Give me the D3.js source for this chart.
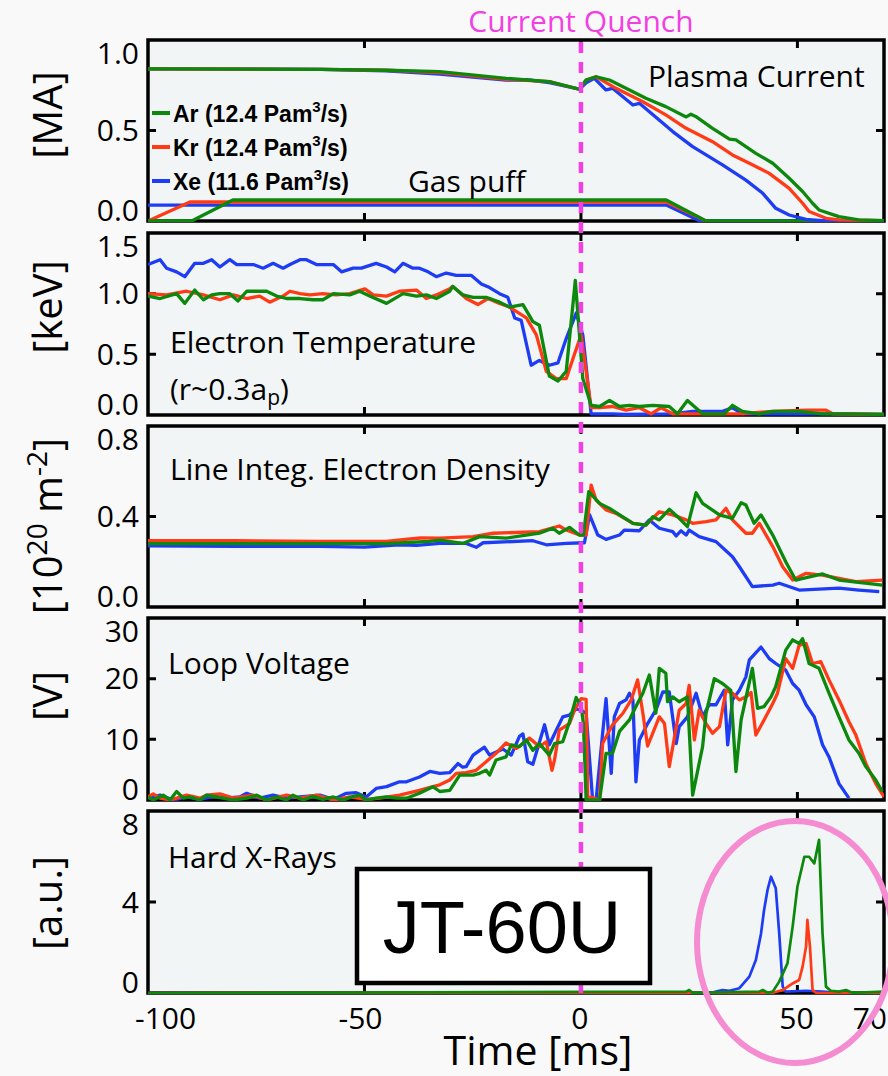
<!DOCTYPE html>
<meta charset="utf-8">
<script src="https://d3js.org/d3.v7.min.js"></script>
<style>
  body { margin: 0; background: #f9f9f9; }
  text { font-family: "Open Sans", "Noto Sans", sans-serif; fill: #000; }
</style>
<body>
<div id="chart"></div>
<script>
// ---- data: [time ms, value] ----
const timeTicks = [-100, -50, 0, 50, 70];

// plasma current [MA]
const currentXe = [[-100,0.84],[-60,0.838],[-45,0.83],[-32.6,0.812],[-17.3,0.779],[-12,0.779],[-7.3,0.764],[-0.35,0.728],[1.2,0.764],[3.1,0.788],[5.8,0.724],[7.3,0.733],[12.0,0.641],[13.5,0.65],[21.2,0.494],[25.8,0.411],[32.7,0.31],[38.1,0.226],[42.0,0.153],[45.0,0.07],[48.1,0.033],[52.0,0.009],[55.8,0.002],[70,0.002]];
const currentKr = [[-100,0.84],[-60,0.838],[-45,0.833],[-32.6,0.82],[-17.3,0.783],[-7.3,0.77],[-0.35,0.728],[1.2,0.779],[3.5,0.797],[8.1,0.733],[14.3,0.659],[19.6,0.586],[24.3,0.512],[30.4,0.438],[35.0,0.365],[38.9,0.319],[43.5,0.263],[48.1,0.18],[51.2,0.098],[52.7,0.052],[56.6,0.015],[59.6,0.006],[70,0.002]];
const currentAr = [[-100,0.84],[-60,0.838],[-45,0.833],[-32.6,0.825],[-17.3,0.788],[-7.3,0.77],[-0.35,0.728],[1.2,0.779],[3.5,0.797],[6.6,0.779],[10.4,0.733],[15.0,0.678],[19.6,0.632],[24.3,0.575],[25.4,0.59],[26.5,0.578],[30.4,0.512],[34.3,0.452],[35.8,0.448],[40.4,0.374],[44.3,0.319],[48.1,0.236],[51.2,0.163],[53.5,0.098],[55.0,0.061],[59.6,0.024],[64.2,0.006],[70,0.002]];

// gas puff (same panel)
const gasXe = [[-100,0.088],[19.7,0.088],[27.5,0],[70,0]];
const gasKr = [[-100,0],[-90.3,0.105],[19.7,0.105],[28.9,0]];
const gasAr = [[-100,0],[-89.9,0],[-80.4,0.116],[19.7,0.116],[28.9,0],[70,0]];

// electron temperature [keV]
const teXe = [[-100,1.24],[-97.2,1.28],[-95.7,1.21],[-93.4,1.18],[-91.5,1.14],[-89.2,1.25],[-87.2,1.25],[-85.3,1.28],[-83.4,1.22],[-81.1,1.28],[-79.5,1.24],[-75.7,1.24],[-73.4,1.21],[-71.1,1.25],[-68.8,1.21],[-67.2,1.24],[-64.9,1.28],[-63.4,1.28],[-61.1,1.24],[-59.2,1.24],[-57.2,1.24],[-55.3,1.18],[-52.6,1.21],[-50.7,1.21],[-47.3,1.25],[-44.9,1.22],[-43.0,1.18],[-41.1,1.25],[-38.8,1.21],[-37.3,1.21],[-35.3,1.18],[-33.4,1.14],[-31.9,1.16],[-31.1,1.17],[-28.8,1.15],[-25.3,1.15],[-23.0,1.08],[-21.1,1.05],[-18.8,1.0],[-16.9,0.97],[-15.3,0.8],[-13.8,0.78],[-11.5,0.41],[-9.6,0.45],[-7.3,0.41],[-5.3,0.43],[-3.4,0.63],[-1.1,0.84],[0.43,0.66],[2.35,0.01],[7.3,0.01],[10.0,0.005],[21.2,0.01],[25.8,0.03],[32.7,0.03],[35.0,0.06],[37.3,0.01],[44.3,0.01],[59.6,0.01],[70,0.005]];
const teKr = [[-100,1.0],[-95.7,0.99],[-91.1,1.02],[-87.2,0.99],[-83.4,0.95],[-80.3,0.99],[-77.2,0.96],[-74.2,0.98],[-71.9,0.93],[-68.8,0.98],[-67.2,1.02],[-64.9,1.0],[-62.6,0.99],[-59.6,1.0],[-56.5,0.99],[-53.4,1.0],[-49.9,1.04],[-48.0,0.99],[-44.9,0.98],[-41.9,1.02],[-38.0,1.03],[-35.7,0.96],[-33.4,0.99],[-30.3,1.04],[-29.6,1.06],[-26.5,0.96],[-23.8,0.91],[-21.5,0.96],[-18.8,0.92],[-16.5,0.89],[-12.6,0.8],[-10.3,0.66],[-8.0,0.36],[-5.7,0.3],[-3.4,0.3],[-1.5,0.5],[0.04,0.66],[2.35,0.06],[4.3,0.06],[7.3,0.07],[10.4,0.04],[13.5,0.06],[16.2,0.01],[18.5,0.06],[21.2,0.01],[28.9,0.01],[36.6,0.01],[44.3,0.03],[52.0,0.04],[56.6,0.04],[58.1,0.01],[70,0.005]];
const teAr = [[-100,0.98],[-97.2,0.96],[-93.4,1.0],[-91.5,0.92],[-89.2,1.03],[-87.2,0.95],[-85.3,0.99],[-83.4,1.0],[-81.1,1.0],[-79.2,0.94],[-77.2,1.02],[-72.6,1.02],[-70.3,0.98],[-68.0,0.96],[-64.9,0.96],[-61.9,0.95],[-59.6,0.95],[-57.2,1.0],[-53.4,0.99],[-51.1,1.02],[-48.8,0.98],[-44.9,0.92],[-41.1,1.0],[-38.0,0.98],[-35.7,0.99],[-33.4,0.96],[-30.3,1.02],[-29.6,1.06],[-27.3,0.99],[-24.9,0.97],[-21.9,0.97],[-18.8,0.93],[-16.5,0.89],[-13.4,0.91],[-11.1,0.77],[-9.6,0.74],[-7.3,0.32],[-5.3,0.28],[-3.4,0.36],[-1.3,1.11],[0.43,0.3],[2.35,0.08],[4.3,0.07],[6.6,0.12],[8.9,0.07],[11.2,0.08],[13.5,0.07],[16.6,0.08],[20.4,0.07],[22.3,0.01],[24.6,0.12],[28.1,0.01],[33.1,0.01],[35.0,0.08],[37.3,0.03],[41.2,0.01],[44.3,0.03],[50.4,0.03],[55.8,0.01],[61.2,0.01],[70,0.005]];

// line integrated electron density [1e20 m^-2]
const neXe = [[-100,0.27],[-80,0.268],[-60,0.268],[-50,0.265],[-42,0.275],[-38,0.272],[-32.6,0.281],[-26.5,0.281],[-24.2,0.264],[-22.6,0.284],[-11.1,0.293],[-8.0,0.275],[-3.4,0.281],[0.81,0.284],[2.0,0.407],[3.9,0.318],[5.8,0.299],[8.9,0.318],[10.0,0.34],[13.5,0.337],[15.8,0.385],[18.1,0.348],[21.2,0.333],[22.0,0.314],[23.1,0.337],[24.3,0.318],[25.0,0.34],[27.3,0.311],[31.2,0.289],[35.0,0.222],[36.6,0.178],[39.6,0.09],[44.3,0.097],[45.8,0.105],[50.4,0.075],[59.6,0.083],[64.2,0.075],[68.9,0.068]];
const neKr = [[-100,0.293],[-80,0.293],[-60,0.29],[-45,0.29],[-40,0.3],[-37,0.305],[-32.6,0.304],[-24.9,0.311],[-20.3,0.326],[-9.6,0.333],[-5.0,0.358],[-3.4,0.34],[-0.35,0.318],[1.2,0.318],[2.35,0.539],[3.5,0.473],[5.8,0.429],[8.1,0.414],[12.0,0.37],[15.0,0.362],[18.1,0.421],[21.2,0.407],[24.3,0.385],[25.8,0.37],[28.9,0.377],[31.2,0.385],[33.5,0.436],[35.0,0.385],[38.1,0.326],[39.6,0.326],[41.2,0.37],[44.3,0.267],[46.6,0.178],[48.9,0.119],[52.0,0.149],[55.8,0.141],[59.6,0.127],[63.5,0.112],[69.6,0.119]];
const neAr = [[-100,0.28],[-60,0.28],[-45,0.28],[-40,0.285],[-35,0.29],[-32.6,0.296],[-27.3,0.281],[-23.4,0.311],[-17.3,0.304],[-9.6,0.326],[-6.5,0.348],[-5.0,0.326],[-2.65,0.352],[-0.35,0.318],[0.58,0.318],[1.8,0.51],[4.3,0.458],[6.6,0.436],[12.0,0.37],[15.0,0.362],[16.6,0.399],[18.1,0.385],[20.4,0.432],[22.7,0.392],[24.6,0.355],[26.6,0.505],[28.1,0.458],[32.0,0.407],[35.0,0.392],[37.0,0.461],[38.1,0.451],[40.0,0.37],[41.6,0.407],[44.3,0.318],[47.3,0.2],[49.6,0.119],[55.8,0.146],[59.6,0.119],[69.6,0.097]];

// loop voltage [V]
const vlXe = [[-100,0.3],[-97.2,0.8],[-94.2,0],[-91.1,0.5],[-88.0,0.1],[-84.9,0.6],[-81.9,0.3],[-78.8,0.5],[-77.2,1.1],[-74.2,0.3],[-71.1,0.8],[-68.0,0.3],[-64.9,0.5],[-60.3,0.8],[-57.2,0.1],[-54.2,1.1],[-51.9,1.2],[-49.6,0.5],[-47.3,1.9],[-44.9,2.2],[-41.9,3.0],[-40.3,3.0],[-37.3,3.8],[-34.9,4.7],[-32.6,4.4],[-30.3,4.5],[-28.4,6.0],[-27.3,5.4],[-26.5,5.5],[-24.9,7.4],[-22.3,8.7],[-21.1,7.4],[-18.0,8.4],[-16.1,7.4],[-14.2,10.5],[-13.4,10.9],[-12.3,6.3],[-11.1,5.9],[-8.4,12.4],[-7.3,9.1],[-5.7,11.5],[-4.2,13.7],[-2.65,14.0],[-1.1,15.0],[0.04,14.8],[1.2,14.3],[2.7,0],[3.5,0],[5.8,16.7],[7.0,4.4],[7.7,13.7],[8.9,15.9],[10.4,16.5],[11.2,17.6],[12.0,16.5],[12.7,3.0],[13.5,9.9],[15.4,12.6],[17.3,14.8],[18.9,17.8],[20.4,17.8],[22.0,9.3],[22.7,12.1],[24.6,13.7],[26.6,17.6],[28.1,13.7],[29.6,15.7],[31.2,15.7],[33.1,18.1],[33.9,9.1],[35.0,16.5],[36.6,18.1],[38.1,20.3],[38.9,23.1],[41.6,25.2],[43.5,23.3],[45.0,22.5],[47.3,21.4],[48.9,19.2],[50.4,18.1],[52.0,15.7],[53.9,13.7],[55.8,9.1],[57.3,7.1],[59.6,2.7],[61.9,0.3]];
const vlKr = [[-100,0.5],[-98.8,1.0],[-97.2,0.3],[-94.9,0],[-91.1,0.8],[-88.0,0.3],[-86.5,0.8],[-83.4,1.0],[-80.3,0.3],[-75.7,0.8],[-72.6,0],[-68.0,0.8],[-64.9,0.3],[-61.1,0.8],[-57.2,0],[-53.4,0.5],[-49.6,0.1],[-46.5,0.3],[-41.9,0.8],[-37.3,1.6],[-34.2,2.2],[-32.6,2.5],[-30.3,3.3],[-28.8,4.4],[-26.5,4.5],[-24.2,4.9],[-21.9,6.3],[-19.6,7.7],[-17.3,9.4],[-14.9,8.5],[-11.9,10.2],[-9.6,8.8],[-8.0,9.6],[-6.7,4.9],[-6.1,6.6],[-5.0,11.5],[-2.65,12.6],[-1.5,14.8],[0.04,16.7],[1.2,16.6],[1.6,0],[2.35,0.5],[4.3,0],[5.0,9.3],[7.3,12.4],[9.7,14.3],[11.6,16.5],[13.1,19.8],[14.3,14.3],[15.4,8.9],[18.1,13.7],[19.3,12.6],[20.4,5.5],[22.7,14.8],[24.3,15.9],[25.0,18.9],[26.2,9.9],[27.3,14.8],[28.9,12.6],[30.4,11.0],[32.0,12.1],[33.5,18.1],[35.0,17.6],[36.6,16.5],[38.1,17.0],[39.3,17.7],[40.4,10.7],[42.3,13.2],[44.3,15.9],[45.4,17.6],[47.3,23.3],[48.9,21.7],[50.4,25.5],[52.0,25.8],[53.5,22.5],[55.4,22.8],[57.3,19.8],[59.6,16.5],[61.9,12.9],[63.5,10.7],[65.8,6.0],[68.1,2.7],[70,0.5]];
const vlAr = [[-100,0.5],[-98.8,0],[-96.5,0.8],[-94.9,0],[-93.4,1.4],[-91.8,0.3],[-90.3,0.5],[-88.0,0],[-86.5,0.8],[-84.2,0.5],[-80.3,0],[-77.2,0.3],[-74.9,0.8],[-72.6,0],[-70.3,0.5],[-68.0,0],[-66.5,0.8],[-64.2,0],[-61.9,0.6],[-59.6,0.1],[-57.2,0.5],[-54.9,0],[-52.6,0.6],[-51.1,0.8],[-49.6,0],[-47.3,0.3],[-44.9,0.5],[-42.6,0.3],[-40.3,0.3],[-37.3,1.1],[-34.2,2.2],[-32.6,1.4],[-30.3,1.6],[-28.0,4.1],[-24.9,4.1],[-23.4,4.4],[-21.9,4.9],[-21.1,4.1],[-19.6,6.6],[-17.3,7.1],[-16.1,9.1],[-14.2,8.8],[-12.6,9.9],[-11.1,8.2],[-9.6,9.3],[-7.3,7.4],[-6.1,9.3],[-4.2,9.6],[-2.65,12.9],[-1.1,16.9],[0.04,15.4],[0.58,12.6],[1.2,0],[4.3,0],[5.8,7.7],[7.3,7.7],[8.9,11.3],[11.2,13.2],[12.7,15.4],[14.3,17.6],[15.8,20.6],[17.3,14.3],[18.1,21.7],[19.6,20.9],[20.0,16.2],[21.2,17.0],[22.7,16.2],[24.6,17.0],[25.8,0.8],[28.1,8.8],[28.9,14.3],[30.8,20.0],[32.7,19.2],[34.6,18.1],[35.8,4.7],[37.0,13.2],[39.6,21.7],[40.8,15.1],[42.3,15.4],[43.9,17.0],[45.0,18.7],[47.3,24.7],[48.9,26.4],[50.4,25.8],[51.2,26.6],[52.7,22.5],[55.0,21.7],[57.3,17.6],[59.6,13.7],[61.9,9.9],[64.2,7.7],[65.8,5.5],[68.1,3.3],[69.6,1.4]];

// hard x-rays [a.u.]
const hxrXe = [[-100,0],[30,0],[31.2,0.06],[32.7,0.13],[34.3,0.1],[36.6,0.21],[38.9,0.72],[40.4,1.45],[41.6,2.62],[42.3,3.65],[43.1,4.53],[43.9,5.11],[45.0,4.6],[45.8,2.62],[46.6,0.28],[47.3,0.06],[52,0.1],[55.8,0.06],[58,0.03]];
const hxrKr = [[-100,0],[44.3,0.01],[46.6,0.13],[48.9,0.42],[50.4,0.57],[51.2,1.16],[52.0,2.04],[52.3,3.21],[52.9,2.04],[53.5,0.13],[54.3,0.01],[70,0]];
const hxrAr = [[-100,0],[24.3,0.06],[25.0,0.13],[25.8,0.01],[41.2,0.06],[42.0,0.13],[43.1,0.01],[44.3,0.06],[45.8,0.5],[47.7,1.3],[48.9,2.92],[50.0,4.67],[51.6,5.99],[52.7,5.99],[53.9,5.7],[55.0,6.73],[55.8,2.62],[56.6,0.28],[57.7,0.1],[59.6,0.06],[61.2,0.13],[62.7,0.01],[70,0.06]];

const legendNames = ["Ar (12.4 Pam", "Kr (12.4 Pam", "Xe (11.6 Pam"];
const colors = { Xe: "#1f3cf5", Kr: "#ff3b17", Ar: "#0c880c" };

// ---- layout ----
const W = 888, H = 1076;
const x = d3.scaleLinear().domain([-100, 70]).range([148, 884]);

const panels = [
  { top: 40, bottom: 221, domain: [0, 1], ticks: [0, 0.5, 1], fmt: d3.format(".1f"),
    series: [[gasXe, "Xe"], [gasKr, "Kr"], [gasAr, "Ar"], [currentXe, "Xe"], [currentKr, "Kr"], [currentAr, "Ar"]], width: 3.3 },
  { top: 233, bottom: 415, domain: [0, 1.5], ticks: [0, 0.5, 1, 1.5], fmt: d3.format(".1f"),
    series: [[teXe, "Xe"], [teKr, "Kr"], [teAr, "Ar"]], width: 3.3 },
  { top: 426, bottom: 607, domain: [0, 0.8], ticks: [0, 0.4, 0.8], fmt: d3.format(".1f"),
    series: [[neXe, "Xe"], [neKr, "Kr"], [neAr, "Ar"]], width: 3.3 },
  { top: 618, bottom: 800, domain: [0, 30], ticks: [0, 10, 20, 30], fmt: d3.format("d"),
    series: [[vlXe, "Xe"], [vlKr, "Kr"], [vlAr, "Ar"]], width: 3.3 },
  { top: 811, bottom: 993, domain: [0, 8], ticks: [0, 4, 8], fmt: d3.format("d"),
    series: [[hxrXe, "Xe"], [hxrKr, "Kr"], [hxrAr, "Ar"]], width: 2.7 }
];

const svg = d3.select("#chart").append("svg")
  .attr("width", W).attr("height", H)
  .style("display", "block");

svg.append("rect").attr("width", W).attr("height", H).attr("fill", "#f9f9f9");

const x0 = x.range()[0], x1 = x.range()[1];

panels.forEach((p, i) => {
  const y = d3.scaleLinear().domain(p.domain).range([p.bottom, p.top]);
  const g = svg.append("g");

  g.append("rect")
    .attr("x", x0).attr("y", p.top)
    .attr("width", x1 - x0).attr("height", p.bottom - p.top)
    .attr("fill", "#f1f5f5");

  // frame
  g.append("rect")
    .attr("x", x0).attr("y", p.top)
    .attr("width", x1 - x0).attr("height", p.bottom - p.top)
    .attr("fill", "none").attr("stroke", "#000").attr("stroke-width", 3.5);

  // inner ticks
  const xt = timeTicks.filter(t => t > -100 && t < 70);
  g.selectAll(".xt").data(xt).join("path")
    .attr("d", t => `M${x(t)},${p.top}v8M${x(t)},${p.bottom}v-8`)
    .attr("stroke", "#000").attr("stroke-width", 3);
  const yt = p.ticks.filter(v => v > p.domain[0] && v < p.domain[1]);
  g.selectAll(".yt").data(yt).join("path")
    .attr("d", v => `M${x0},${y(v)}h8M${x1},${y(v)}h-8`)
    .attr("stroke", "#000").attr("stroke-width", 3);

  // tick labels (the end ones sit inside the frame)
  g.selectAll(".yl").data(p.ticks).join("text")
    .attr("x", 139)
    .attr("y", v => v === p.domain[1] ? y(v) + 13 : v === p.domain[0] ? y(v) - 11 : y(v))
    .attr("dy", "0.36em")
    .attr("text-anchor", "end")
    .attr("font-size", 30)
    .text(p.fmt);

  // traces
  const clipId = "clip" + i;
  svg.append("clipPath").attr("id", clipId).append("rect")
    .attr("x", x0).attr("y", p.top - 2)
    .attr("width", x1 - x0).attr("height", p.bottom - p.top + 3);
  const line = d3.line().x(d => x(d[0])).y(d => y(d[1]));
  g.append("g").attr("clip-path", `url(#${clipId})`)
    .selectAll("path").data(p.series).join("path")
    .attr("d", d => line(d[0]))
    .attr("fill", "none")
    .attr("stroke", d => colors[d[1]])
    .attr("stroke-width", p.width)
    .attr("stroke-linejoin", "round");
});

// current quench marker
svg.append("line")
  .attr("x1", x(0)).attr("x2", x(0))
  .attr("y1", panels[0].top + 2).attr("y2", panels[4].bottom)
  .attr("stroke", "#f23fe3").attr("stroke-width", 4.5)
  .attr("stroke-dasharray", "11,9");

svg.append("text")
  .attr("x", x(0)).attr("y", 32)
  .attr("text-anchor", "middle").attr("font-size", 30)
  .style("fill", "#f23fe3")
  .text("Current Quench");

// x axis labels
svg.selectAll(".xl").data(timeTicks).join("text")
  .attr("x", t => t === -100 ? x(t) - 13 : t === 70 ? x(t) + 3 : x(t) - (t < 0 ? 4 : 1))
  .attr("y", 1029)
  .attr("text-anchor", t => t === -100 ? "start" : t === 70 ? "end" : "middle")
  .attr("font-size", 30)
  .text(d => d);

svg.append("text")
  .attr("x", 538).attr("y", 1065)
  .attr("text-anchor", "middle").attr("font-size", 41)
  .text("Time [ms]");

// y units
const units = [
  { cy: 115, parts: [["[MA]"]] },
  { cy: 307, parts: [["[keV]"]] },
  { cy: 526, parts: [["[10"], ["20", "sup"], [" m"], ["-2", "sup"], ["]"]] },
  { cy: 696, parts: [["[V]"]] },
  { cy: 903, parts: [["[a.u.]"]] }
];
units.forEach(u => {
  const t = svg.append("text")
    .attr("transform", `translate(62,${u.cy}) rotate(-90)`)
    .attr("text-anchor", "middle").attr("font-size", 40);
  u.parts.forEach(pt => {
    const s = t.append("tspan").text(pt[0]);
    if (pt[1] === "sup") s.attr("font-size", 28).attr("baseline-shift", "55%");
  });
});

// panel titles
const titles = [
  [648, 87, "Plasma Current"],
  [408, 192, "Gas puff"],
  [170, 353, "Electron Temperature"],
  [170, 480, "Line Integ. Electron Density"],
  [168, 674, "Loop Voltage"],
  [168, 868, "Hard X-Rays"]
];
svg.selectAll(".ttl").data(titles).join("text")
  .attr("x", d => d[0]).attr("y", d => d[1])
  .attr("font-size", 30)
  .text(d => d[2]);

const rr = svg.append("text").attr("x", 170).attr("y", 400).attr("font-size", 30);
rr.append("tspan").text("(r~0.3a");
rr.append("tspan").attr("font-size", 21).attr("baseline-shift", "-25%").text("p");
rr.append("tspan").text(")");

// legend
const legKeys = ["Ar", "Kr", "Xe"];
legKeys.forEach((k, i) => {
  const cy = 113 + i * 34;
  svg.append("line")
    .attr("x1", 152).attr("x2", 170).attr("y1", cy).attr("y2", cy)
    .attr("stroke", colors[k]).attr("stroke-width", 4);
  const t = svg.append("text")
    .attr("x", 173).attr("y", cy + 9)
    .attr("font-size", 23).attr("font-weight", "bold")
    .style("font-family", "'Liberation Sans', Arial, sans-serif");
  t.append("tspan").text(legendNames[i]);
  t.append("tspan").attr("font-size", 15).attr("dy", -10).text("3");
  t.append("tspan").attr("dy", 10).text("/s)");
});

// JT-60U box
svg.append("rect")
  .attr("x", 357).attr("y", 869).attr("width", 293).attr("height", 114)
  .attr("fill", "#fff").attr("stroke", "#000").attr("stroke-width", 4.5);
svg.append("text")
  .attr("x", 502).attr("y", 953)
  .attr("text-anchor", "middle").attr("font-size", 74)
  .style("font-family", "'Liberation Sans', Arial, sans-serif")
  .text("JT-60U");

// highlight ellipse
svg.append("ellipse")
  .attr("cx", 795).attr("cy", 942).attr("rx", 98).attr("ry", 121)
  .attr("fill", "none").attr("stroke", "#f58bd0").attr("stroke-width", 6);
</script>
</body>
